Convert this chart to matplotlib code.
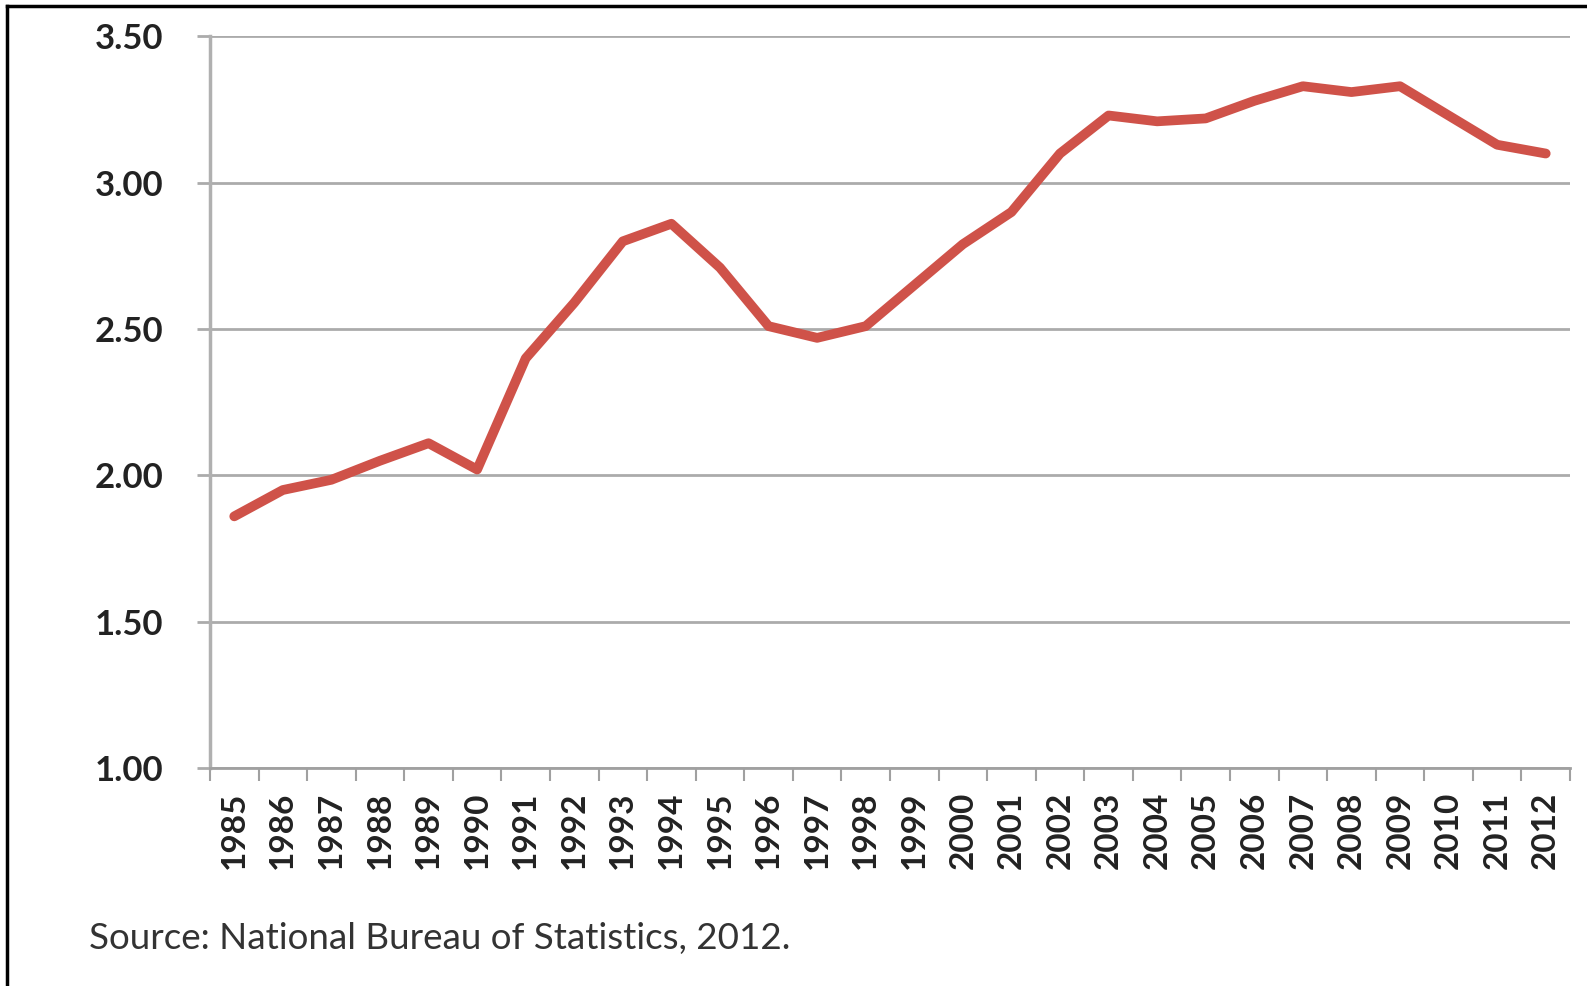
import numpy as np
import matplotlib.pyplot as plt
from matplotlib.lines import Line2D

# Serie anual 1985-2012
years = [str(y) for y in range(1985, 2013)]
values = [1.86, 1.95, 1.985, 2.05, 2.11, 2.02, 2.40, 2.59, 2.80, 2.86,
          2.71, 2.51, 2.47, 2.51, 2.65, 2.79, 2.90, 3.10, 3.23, 3.21,
          3.22, 3.28, 3.33, 3.31, 3.33, 3.23, 3.13, 3.10]
y_ticks = [1.00, 1.50, 2.00, 2.50, 3.00, 3.50]
source_text = "Source: National Bureau of Statistics, 2012."


def grafico():
    fig = plt.figure(figsize=(15.87, 9.86), dpi=100)
    ax = fig.add_axes([0.1323, 0.2211, 0.8570, 0.7419])

    x = np.arange(len(years))
    ax.plot(x, values, c='#cf5249', lw=7, solid_joinstyle='round',
            solid_capstyle='round', zorder=3)

    ax.set_xlim(-0.5, len(years) - 0.5)
    ax.set_ylim(1.0, 3.5)

    # rejilla horizontal gris
    ax.set_yticks(y_ticks)
    ax.set_yticklabels(['%.2f' % v for v in y_ticks],
                       fontfamily='Lato', fontweight='bold', fontsize=25,
                       color='#222222')
    ax.grid(axis='y', color='#ababab', lw=2)
    ax.tick_params(axis='y', length=9.5, width=2, color='#ababab', pad=24)

    # años centrados, marcas en los límites de cada categoría
    ax.set_xticks(x)
    ax.set_xticklabels(years, rotation=90, fontfamily='Lato',
                       fontweight='bold', fontsize=24, color='#222222')
    ax.set_xticks(np.arange(len(years) + 1) - 0.5, minor=True)
    ax.tick_params(axis='x', which='major', length=0, pad=17)
    ax.tick_params(axis='x', which='minor', length=9, width=1.5,
                   color='#a0a0a0')

    for s in ['top', 'right']:
        ax.spines[s].set_visible(False)
    ax.spines['left'].set_color('#b0b0b0')
    ax.spines['left'].set_linewidth(2.5)
    ax.spines['bottom'].set_color('#a0a0a0')
    ax.spines['bottom'].set_linewidth(2)

    fig.text(89 / 1587, 1 - 938 / 986, source_text, fontfamily='Lato',
             fontsize=26.5, color='#333333', va='center', ha='left')

    # marco del recuadro (arriba e izquierda)
    fig.add_artist(Line2D([7 / 1587, 7 / 1587], [0, 1 - 6 / 986],
                          color='black', lw=2.5))
    fig.add_artist(Line2D([7 / 1587, 1], [1 - 6 / 986, 1 - 6 / 986],
                          color='black', lw=2.5))

    fig.savefig('out.png', dpi=100, facecolor='white')


if __name__ == '__main__':
    grafico()
